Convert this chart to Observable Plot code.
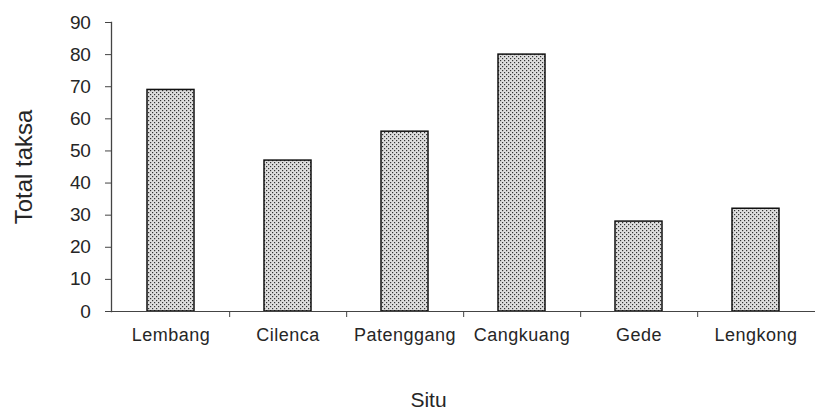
<!DOCTYPE html>
<html><head><meta charset="utf-8">
<script src="https://cdn.jsdelivr.net/npm/d3@7"></script>
<script src="https://cdn.jsdelivr.net/npm/@observablehq/plot@0.6"></script>
<style>
body{margin:0;background:#fff}
g[aria-label="x-axis tick label"] text{letter-spacing:0.5px}
g[aria-label="y-axis tick label"] text{letter-spacing:-0.3px}
g[aria-label="y-title"] text{fill:#262626;stroke:#262626;stroke-width:0.35px;paint-order:normal}
</style>
</head><body><div id="chart"></div>
<script>
const categories = ["Lembang","Cilenca","Patenggang","Cangkuang","Gede","Lengkong"];
const values = [69, 47, 56, 80, 28, 32];
const yTicks = [0,10,20,30,40,50,60,70,80,90];
const yLabel = "Total taksa";
const xLabel = "Situ";

const data = categories.map((c,i)=>({situ:c,total:values[i]}));
const W=815,H=410,mL=111,mR=0,mT=22,mB=99;
const step=(W-mL-mR)/categories.length;

const chart = Plot.plot({
  width:W,height:H,marginLeft:mL,marginRight:mR,marginTop:mT,marginBottom:mB,
  style:{fontFamily:"Arial, 'Liberation Sans', sans-serif",background:"#fff",color:"#262626",overflow:"visible"},
  x:{domain:categories,paddingInner:0.6,paddingOuter:0.3,label:null,axis:null},
  y:{domain:[0,90],label:null,axis:null},
  marks:[
    Plot.barY(data,{x:"situ",y:"total",fill:"url(#dots)",stroke:"#111",strokeWidth:1.5}),
    Plot.frame({anchor:"bottom",stroke:"#444",strokeWidth:1}),
    Plot.frame({anchor:"left",stroke:"#444",strokeWidth:1.3}),
    Plot.axisY({ticks:yTicks,tickSize:6,tickPadding:15,fontSize:19,label:null,stroke:"#444"}),
    Plot.axisX({ticks:categories.slice(0,-1),tickSize:6,tickFormat:()=>"",dx:step/2,stroke:"#444",label:null}),
    Plot.axisX({ticks:categories,tickSize:0,tickPadding:17,fontSize:18,label:null}),
    Plot.text([yLabel],{text:d=>d,frameAnchor:"left",rotate:-90,dx:-87,textAnchor:"middle",lineAnchor:"middle",fontSize:24,fill:"#262626",ariaLabel:"y-title"}),
    Plot.text([xLabel],{text:d=>d,frameAnchor:"bottom",dy:89,dx:-35,textAnchor:"middle",lineAnchor:"middle",fontSize:21,fill:"#262626",ariaLabel:"x-title"})
  ]
});
const svg = chart.tagName.toLowerCase()==="svg"?chart:chart.querySelector("svg");
const defs=document.createElementNS("http://www.w3.org/2000/svg","defs");
defs.innerHTML='<pattern id="dots" width="4" height="4" patternUnits="userSpaceOnUse"><rect width="4" height="4" fill="#dedede"/><rect width="1.2" height="1.2" fill="#333"/><rect x="2" y="2" width="1.2" height="1.2" fill="#333"/></pattern>';
svg.insertBefore(defs,svg.firstChild);
document.getElementById("chart").appendChild(chart);
</script>
</body></html>
